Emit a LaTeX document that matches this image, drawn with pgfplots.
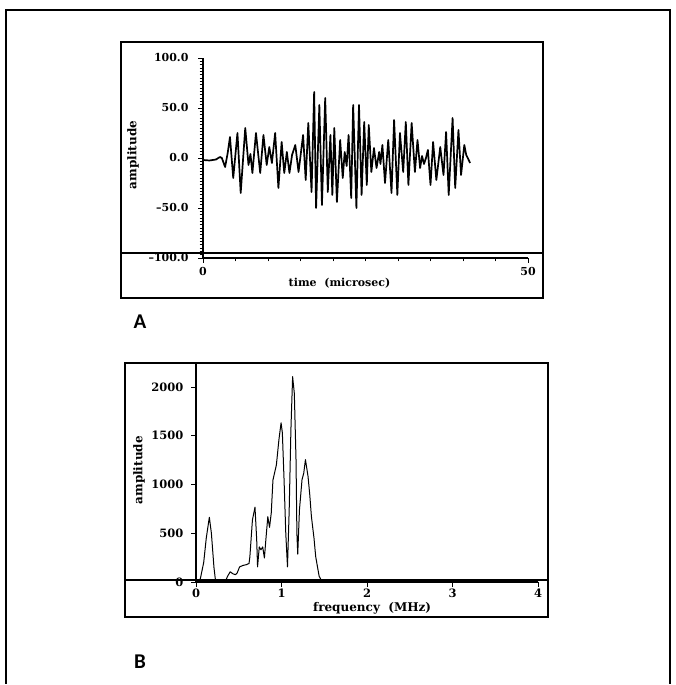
\documentclass[border=0pt]{standalone}
\usepackage{pgfplots}
\pgfplotsset{compat=1.18}
\usepackage{fontspec}
\setmainfont{DejaVu Serif}
\newfontfamily\panelfont{Carlito}
\begin{document}
\begin{tikzpicture}[x=1pt,y=1pt]
\useasboundingbox (0,0) rectangle (676,685);
% outer frame
\draw[line width=2pt] (6,1) -- (6,675) -- (670,675) -- (670,1);
% panel boxes
\draw[line width=1.6pt] (121,643) rectangle (543,387);
\draw[line width=1.6pt] (125,322) rectangle (548,68);
% panel letters
\node[font=\panelfont\bfseries\fontsize{21}{21}\selectfont] at (140,363) {A};
\node[font=\panelfont\bfseries\fontsize{21}{21}\selectfont] at (140,23) {B};

% ---------------- Panel A ----------------
\begin{axis}[
  at={(203pt,427pt)}, anchor=south west,
  scale only axis, width=325pt, height=200pt,
  xmin=0, xmax=50, ymin=-100, ymax=100,
  axis x line*=bottom, axis y line*=left,
  axis line style={-, line width=1.2pt},
  tick align=outside,
  xtick={0,50}, xticklabels={0,50},
  minor xtick={5,10,...,45},
  ytick={-100,-50,0,50,100},
  yticklabels={\textendash100.0,\textendash50.0,0.0,50.0,100.0},
  minor y tick num=14,
  major tick length=5pt, minor tick length=3.5pt,
  every tick/.style={black, line width=0.9pt},
  tick label style={font=\bfseries\fontsize{11}{12}\selectfont},
  xticklabel style={yshift=-1pt},
  yticklabel style={xshift=-6pt},
  xlabel={time\ \ (microsec)},
  ylabel={amplitude},
  every axis x label/.style={at={(axis description cs:0.42,0)}, yshift=-25pt, anchor=center, font=\bfseries\fontsize{11}{12}\selectfont},
  every axis y label/.style={at={(axis description cs:0,0.515)}, xshift=-70pt, rotate=90, anchor=center, font=\bfseries\fontsize{12}{12}\selectfont},
  clip=false,
]
\draw[line width=2.4pt] (axis cs:-12.6,-95) -- (axis cs:52.3,-95);
\addplot[black, line width=1.7pt, line join=round] coordinates {
(0,-2) (1,-2.5) (2,-1.5) (2.6,1) (2.9,0) (3.4,-9) (3.8,5)
(4.15,21) (4.65,-20) (5.3,25) (5.8,-35) (6.5,30) (7.0,-7) (7.3,4) (7.6,-15)
(8.15,25) (8.8,-15) (9.3,23) (9.8,-7) (10.2,11) (10.6,-5) (11.1,25) (11.6,-30)
(12.1,16) (12.5,-15) (12.9,6) (13.3,-15) (13.7,3) (14.2,13) (14.7,-14)
(15.4,23) (15.8,-22) (16.2,35) (16.7,-34) (17.1,66) (17.4,-50) (17.9,53)
(18.3,-47) (18.8,60) (19.2,-34) (19.6,23) (19.9,-37) (20.2,30) (20.6,-44)
(21.1,18) (21.5,-20) (21.8,6) (22.1,-8) (22.4,23) (22.8,-40) (23.1,53)
(23.6,-50) (24.0,53) (24.4,-37) (24.8,36) (25.2,-27) (25.5,33) (25.9,-14)
(26.3,10) (26.7,-10) (27.1,6) (27.3,-6) (27.6,13) (28.0,-25) (28.5,18)
(29.0,-35) (29.4,38) (29.9,-37) (30.3,25) (30.8,-14) (31.2,36) (31.6,-27)
(32.1,35) (32.6,-14) (33.0,18) (33.4,-10) (33.7,2) (34.0,-6) (34.3,0)
(34.6,8) (35.0,-27) (35.4,16) (35.9,-22) (36.5,11) (37.0,-17) (37.4,26)
(37.8,-37) (38.4,40) (38.8,-30) (39.3,28) (39.7,-17) (40.2,13) (40.5,3)
(41.1,-5)
};
\end{axis}

% ---------------- Panel B ----------------
\begin{axis}[
  at={(196pt,103pt)}, anchor=south west,
  scale only axis, width=342pt, height=219pt,
  xmin=0, xmax=4, ymin=0, ymax=2246,
  axis x line*=bottom, axis y line*=left,
  axis line style={-, line width=1.2pt},
  tick align=outside,
  xtick={0,1,2,3,4}, xticklabels={0,1,2,3,4},
  ytick={0,500,1000,1500,2000}, yticklabels={0,500,1000,1500,2000},
  major tick length=5pt,
  every tick/.style={black, line width=0.9pt},
  tick label style={font=\bfseries\fontsize{11.5}{12}\selectfont},
  xticklabel style={yshift=2pt},
  yticklabel style={xshift=-4pt},
  xlabel={frequency\ \ (MHz)},
  ylabel={amplitude},
  every axis x label/.style={at={(axis description cs:0.515,0)}, yshift=-26pt, anchor=center, font=\bfseries\fontsize{12}{12}\selectfont},
  every axis y label/.style={at={(axis description cs:0,0.51)}, xshift=-57pt, rotate=90, anchor=center, font=\bfseries\fontsize{12}{12}\selectfont},
  clip=false,
]
\draw[line width=2.4pt] (axis cs:-0.83,18) -- (axis cs:4.12,18);
\addplot[black, line width=1pt, line join=round] coordinates {
(0,0) (0.05,30) (0.09,200) (0.12,450) (0.156,664) (0.18,500) (0.21,150) (0.23,0)
(0.34,0) (0.37,60) (0.40,105) (0.43,85) (0.46,75) (0.48,90) (0.51,155) (0.55,170)
(0.59,178) (0.62,190) (0.63,258) (0.66,636) (0.69,767) (0.70,600) (0.71,430)
(0.72,155) (0.74,360) (0.76,330) (0.78,360) (0.80,246) (0.82,465) (0.84,670)
(0.86,560) (0.88,706) (0.90,1046) (0.94,1200) (0.97,1460) (0.995,1633) (1.01,1530)
(1.03,1046) (1.05,500) (1.07,155) (1.09,740) (1.11,1560) (1.13,2106) (1.15,1935)
(1.17,1245) (1.18,500) (1.19,285) (1.21,740) (1.24,1050) (1.26,1115) (1.28,1255)
(1.31,1085) (1.33,900) (1.35,670) (1.38,450) (1.40,260) (1.44,60) (1.47,10)
(1.5,0) (2,12) (2.5,8) (3,12) (3.5,8) (4,12)
};
\end{axis}
\end{tikzpicture}
\end{document}
